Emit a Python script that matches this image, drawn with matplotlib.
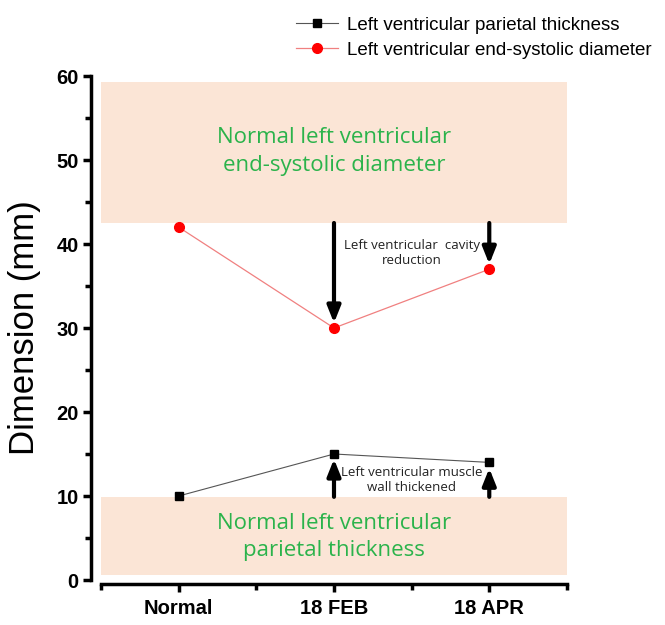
import matplotlib
matplotlib.use('Agg')
import matplotlib.pyplot as plt
from matplotlib.ticker import MultipleLocator

# data
stages = ['Normal', '18 FEB', '18 APR']
thickness = [10, 15, 14]
diameter = [42, 30, 37]
diam_band = (42.5, 59.3)   # normal end-systolic diameter range
thick_band = (0.6, 9.9)    # normal parietal thickness range

narrow = ['Liberation Sans Narrow', 'Liberation Sans', 'DejaVu Sans']
calibri = ['Open Sans', 'DejaVu Sans']
peach = '#fbe5d6'
green = '#2bb34b'

fig = plt.figure(figsize=(6.65, 6.25), dpi=100)
ax = fig.add_axes([0.152, 0.072, 0.7005, 0.8064])

x = [1, 2, 3]
ax.axhspan(*diam_band, color=peach, lw=0, zorder=0)
ax.axhspan(*thick_band, color=peach, lw=0, zorder=0)

ax.plot(x, thickness, color='#555555', lw=0.8, marker='s', ms=6, mfc='black', mec='black',
        label='Left ventricular parietal thickness', zorder=3)
ax.plot(x, diameter, color='#f08080', lw=0.9, marker='o', ms=7, mfc='red', mec='red',
        label='Left ventricular end-systolic diameter', zorder=3)

# arrows from the normal bands to the measured values
arrow = dict(arrowstyle='-|>,head_width=0.4,head_length=1.0', color='black', lw=3, shrinkA=0, shrinkB=0)
ax.annotate('', xy=(2, 30.6), xytext=(2, diam_band[0]), arrowprops=arrow)
ax.annotate('', xy=(3, 37.6), xytext=(3, diam_band[0]), arrowprops=arrow)
ax.annotate('', xy=(2, 14.4), xytext=(2, thick_band[1]), arrowprops=arrow)
ax.annotate('', xy=(3, 13.3), xytext=(3, thick_band[1]), arrowprops=arrow)

ax.text(2.5, 38.9, 'Left ventricular  cavity\nreduction', ha='center', va='center',
        fontsize=9.5, family=calibri, color='#222222', linespacing=1.25)
ax.text(2.5, 11.9, 'Left ventricular muscle\nwall thickened', ha='center', va='center',
        fontsize=9.5, family=calibri, color='#222222', linespacing=1.25)

ax.text(2, 51, 'Normal left ventricular\nend-systolic diameter', ha='center', va='center',
        fontsize=16, family=calibri, color=green, linespacing=1.4)
ax.text(2, 5.1, 'Normal left ventricular\nparietal thickness', ha='center', va='center',
        fontsize=16, family=calibri, color=green, linespacing=1.4)

ax.set_xlim(0.5, 3.5)
ax.set_ylim(0, 60)
ax.set_xticks(x)
ax.set_xticklabels(stages)
ax.xaxis.set_minor_locator(MultipleLocator(0.5))
ax.yaxis.set_major_locator(MultipleLocator(10))
ax.yaxis.set_minor_locator(MultipleLocator(5))

for s in ['top', 'right']:
    ax.spines[s].set_visible(False)
ax.spines['left'].set_position(('outward', 7))
ax.spines['bottom'].set_position(('outward', 3))
for s in ['left', 'bottom']:
    ax.spines[s].set_linewidth(2.5)
ax.tick_params(which='major', direction='out', length=6, width=2.5, pad=3)
ax.tick_params(which='minor', direction='out', length=4, width=2.5)
for lab in ax.get_xticklabels() + ax.get_yticklabels():
    lab.set_family(narrow)
    lab.set_fontweight('bold')
    lab.set_fontsize(14.5)
ax.tick_params(axis='x', pad=5)

ax.set_ylabel('Dimension (mm)', fontsize=25, family=['Liberation Sans', 'DejaVu Sans'], labelpad=11)

leg = ax.legend(loc='upper right', bbox_to_anchor=(0.991, 0.985), bbox_transform=fig.transFigure,
                frameon=False, prop={'family': narrow, 'size': 13.5}, handlelength=2.2,
                handletextpad=0.5, labelspacing=0.4, borderaxespad=0)

fig.savefig('out.png', dpi=100)
